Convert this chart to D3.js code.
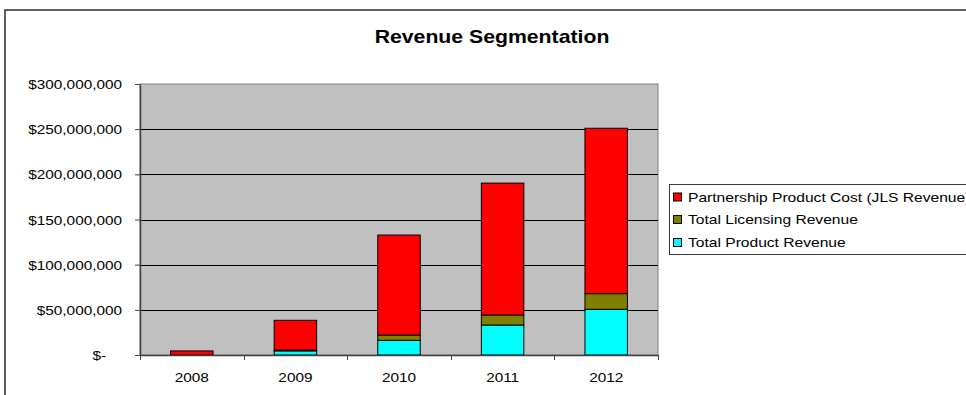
<!DOCTYPE html>
<html>
<head>
<meta charset="utf-8">
<script src="https://cdn.jsdelivr.net/npm/d3@7"></script>
<style>
  html, body { margin: 0; padding: 0; background: #fff; }
  svg { display: block; font-family: Arial, "Liberation Sans", sans-serif; }
</style>
</head>
<body>
<svg id="chart" width="966" height="395"></svg>
<script>
// Revenue by year, in dollars
const years = ["2008", "2009", "2010", "2011", "2012"];
const productRevenue     = [0,         4600000,  16300000,  33200000,  50600000];
const licensingRevenue   = [0,          800000,   5800000,  11100000,  17300000];
const partnershipCost    = [4500000,  33000000, 110700000, 146000000, 183100000];

const seriesNames = [
  "Total Product Revenue",
  "Total Licensing Revenue",
  "Partnership Product Cost (JLS Revenue)"
];
const seriesColors = ["#00ffff", "#808000", "#ff0000"];

const yTickValues = [0, 50000000, 100000000, 150000000, 200000000, 250000000, 300000000];
const yTickLabels = ["$-", "$50,000,000", "$100,000,000", "$150,000,000", "$200,000,000", "$250,000,000", "$300,000,000"];

const SX = 1.18;   // horizontal text stretch
const SXL = 1.2;   // legend text stretch

const svg = d3.select("#chart");
const plot = { left: 140, right: 658, top: 84, bottom: 355 };

// outer chart frame (continues past the right and bottom edges)
svg.append("rect")
  .attr("x", 5).attr("y", 10)
  .attr("width", 1100).attr("height", 500)
  .attr("fill", "#fff")
  .attr("stroke", "#3a3a3a").attr("stroke-width", 1.6);

// title
svg.append("text")
  .attr("transform", `translate(492,43) scale(${SX},1)`)
  .attr("text-anchor", "middle")
  .attr("font-size", 18).attr("font-weight", "bold")
  .attr("fill", "#000")
  .text("Revenue Segmentation");

const x = d3.scaleBand()
  .domain(years)
  .range([plot.left, plot.right])
  .paddingInner(0.59)
  .paddingOuter(0.295);

const y = d3.scaleLinear()
  .domain([0, 300000000])
  .range([plot.bottom, plot.top]);

// plot area background
svg.append("rect")
  .attr("x", plot.left).attr("y", plot.top)
  .attr("width", plot.right - plot.left).attr("height", plot.bottom - plot.top)
  .attr("fill", "#c0c0c0")
  .attr("stroke", "#808080").attr("stroke-width", 1);

// horizontal gridlines
svg.append("g")
  .selectAll("line")
  .data(yTickValues.filter(v => v > 0 && v < 300000000))
  .join("line")
  .attr("x1", plot.left).attr("x2", plot.right)
  .attr("y1", d => Math.round(y(d)) + 0.5).attr("y2", d => Math.round(y(d)) + 0.5)
  .attr("stroke", "#000").attr("stroke-width", 1);

// stacked bars
const table = years.map((yr, i) => ({
  year: yr,
  s0: productRevenue[i],
  s1: licensingRevenue[i],
  s2: partnershipCost[i]
}));
const stack = d3.stack().keys(["s0", "s1", "s2"])(table);

svg.append("g")
  .selectAll("g")
  .data(stack)
  .join("g")
  .attr("fill", (d, i) => seriesColors[i])
  .selectAll("rect")
  .data(d => d.filter(p => p[1] - p[0] > 0))
  .join("rect")
  .attr("x", d => x(d.data.year))
  .attr("width", x.bandwidth())
  .attr("y", d => y(d[1]))
  .attr("height", d => y(d[0]) - y(d[1]))
  .attr("stroke", "#000").attr("stroke-width", 1);

// y axis
const yAxis = svg.append("g")
  .attr("transform", `translate(${plot.left},0)`)
  .call(d3.axisLeft(y)
    .tickValues(yTickValues)
    .tickFormat((d, i) => yTickLabels[i])
    .tickSize(5)
    .tickSizeOuter(0));
yAxis.select(".domain").attr("stroke", "#404040").attr("stroke-width", 1.5);
yAxis.selectAll(".tick line").attr("stroke", "#404040");
yAxis.selectAll(".tick text")
  .attr("font-size", 13)
  .attr("font-family", "Arial, 'Liberation Sans', sans-serif")
  .attr("fill", "#000")
  .attr("x", d => (d === 0 ? -34 : -18) / SX)
  .attr("dy", "0.35em")
  .attr("transform", `scale(${SX},1)`);

// x axis with ticks at category boundaries
const xAxis = svg.append("g")
  .attr("transform", `translate(0,${plot.bottom})`)
  .call(d3.axisBottom(x).tickSize(0).tickSizeOuter(0));
xAxis.select(".domain").attr("stroke", "#404040").attr("stroke-width", 1.5);
xAxis.selectAll(".tick text")
  .attr("font-size", 13)
  .attr("font-family", "Arial, 'Liberation Sans', sans-serif")
  .attr("fill", "#000")
  .attr("y", 0)
  .attr("dy", 27)
  .attr("transform", `scale(${SX},1)`)
  .attr("x", 0)
  .attr("text-anchor", "middle");
// keep labels centred on the band after the stretch
xAxis.selectAll(".tick").each(function (d) {
  const cx = x(d) + x.bandwidth() / 2;
  d3.select(this).attr("transform", `translate(${cx},0)`);
});

const step = x.step();
const boundaries = d3.range(years.length + 1).map(i => plot.left + i * step);
xAxis.append("g")
  .selectAll("line")
  .data(boundaries)
  .join("line")
  .attr("x1", d => Math.round(d) + 0.5).attr("x2", d => Math.round(d) + 0.5)
  .attr("y1", 0).attr("y2", 5)
  .attr("stroke", "#404040").attr("stroke-width", 1);

// legend
const legend = svg.append("g");
legend.append("rect")
  .attr("x", 669.5).attr("y", 184.5)
  .attr("width", 400).attr("height", 70)
  .attr("fill", "#fff")
  .attr("stroke", "#3a3a3a").attr("stroke-width", 1);

const legendOrder = [2, 1, 0];
const rowY = [197, 219.5, 242.5];
legendOrder.forEach((si, r) => {
  legend.append("rect")
    .attr("x", 673.5).attr("y", rowY[r] - 4)
    .attr("width", 8).attr("height", 8)
    .attr("fill", seriesColors[si])
    .attr("stroke", "#000").attr("stroke-width", 1);
  legend.append("text")
    .attr("transform", `translate(688,${rowY[r] + 4.7}) scale(${SXL},1)`)
    .attr("font-size", 13)
    .attr("fill", "#000")
    .text(seriesNames[si]);
});
</script>
</body>
</html>
